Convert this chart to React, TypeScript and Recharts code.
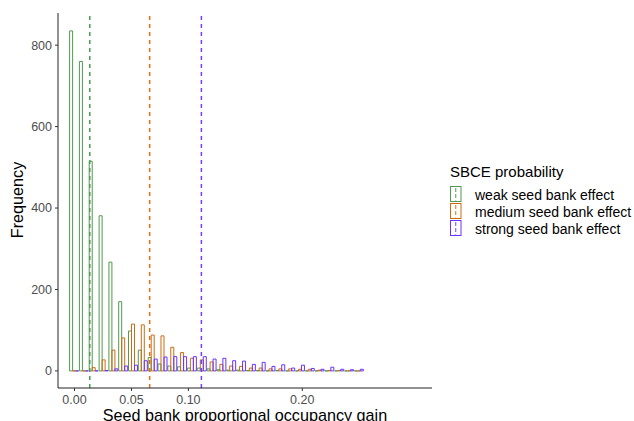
import {
  Bar,
  ComposedChart,
  ReferenceLine,
  XAxis,
  YAxis,
} from "recharts";

const FONT = '"Liberation Sans", Arial, Helvetica, sans-serif';

// histogram bin centres (30 bins)
const binCenters = [
  0, 0.0086, 0.0172, 0.0259, 0.0345, 0.0431, 0.0517, 0.0603, 0.069, 0.0776,
  0.0862, 0.0948, 0.1034, 0.1121, 0.1207, 0.1293, 0.1379, 0.1466, 0.1552, 0.1638,
  0.1724, 0.181, 0.1897, 0.1983, 0.2069, 0.2155, 0.2241, 0.2328, 0.2414, 0.25,
];

const weakCounts = [
  835, 760, 515, 381, 267, 170, 98, 51, 33, 17, 12, 10, 7, 7, 5, 3, 2, 2, 1, 1,
  0, 1, 0, 0, 0, 0, 0, 0, 0, 0,
];
const mediumCounts = [
  0, 0, 8, 27, 51, 81, 115, 113, 88, 86, 58, 45, 31, 27, 22, 16, 12, 11, 7, 7,
  5, 5, 5, 4, 4, 2, 1, 1, 0, 0,
];
const strongCounts = [
  0, 0, 0, 1, 5, 12, 14, 25, 29, 34, 35, 35, 35, 35, 29, 31, 25, 24, 16, 21,
  11, 15, 7, 14, 6, 4, 9, 4, 3, 4,
];

// mean gain per group (dashed vertical lines)
const groupMeans = [0.0134, 0.066, 0.1114];

const groups = [
  { key: "weak", label: "weak seed bank effect", color: "#4f9a4f", vline: "#4f9a4f" },
  { key: "medium", label: "medium seed bank effect", color: "#cd6a10", vline: "#e07010" },
  { key: "strong", label: "strong seed bank effect", color: "#6b32ff", vline: "#7040ff" },
];

const xTicks = [0, 0.05, 0.1, 0.2];
const yTicks = [0, 200, 400, 600, 800];

const data = binCenters.map((x, i) => ({
  x,
  weak: weakCounts[i],
  medium: mediumCounts[i],
  strong: strongCounts[i],
}));

// hollow bar, still drawn as a flat line when the count is zero
function OutlineBar(props: any) {
  const { x, y, width, height, stroke } = props;
  if (x == null || y == null) return null;
  return (
    <path
      d={`M${x},${y}h${width}v${height}h${-width}Z`}
      fill="none"
      stroke={stroke}
      strokeWidth={1}
    />
  );
}

const tickStyle = { fill: "#4d4d4d", fontSize: 12.5, fontFamily: FONT };

export default function App() {
  return (
    <div style={{ position: "absolute", left: 0, top: 0, width: 634, height: 421, background: "#fff" }}>
      <ComposedChart
        width={634}
        height={421}
        data={data}
        margin={{ top: 13, right: 202, bottom: 0, left: 0 }}
        barGap={0}
        barCategoryGap={0}
      >
        <XAxis
          dataKey="x"
          type="number"
          domain={[-0.0145, 0.3139]}
          ticks={xTicks}
          tickFormatter={(v) => Number(v).toFixed(2)}
          height={33}
          tick={tickStyle}
          tickSize={3}
          tickMargin={4}
          axisLine={{ stroke: "#222", strokeWidth: 1 }}
          tickLine={{ stroke: "#333" }}
          allowDataOverflow
        />
        <YAxis
          type="number"
          domain={[-42, 879]}
          ticks={yTicks}
          width={58}
          tick={tickStyle}
          tickSize={3}
          tickMargin={3}
          axisLine={{ stroke: "#222", strokeWidth: 1 }}
          tickLine={{ stroke: "#333" }}
          allowDataOverflow
        />
        {groups.map((g) => (
          <Bar
            key={g.key}
            dataKey={g.key}
            stroke={g.color}
            fill="none"
            shape={<OutlineBar />}
            isAnimationActive={false}
          />
        ))}
        {groups.map((g, i) => (
          <ReferenceLine
            key={`mean-${g.key}`}
            x={groupMeans[i]}
            stroke={g.vline}
            strokeOpacity={1}
            strokeWidth={1.5}
            strokeDasharray="4 4"
          />
        ))}
      </ComposedChart>

      <svg
        width={634}
        height={421}
        style={{ position: "absolute", left: 0, top: 0, pointerEvents: "none" }}
      >
        <text
          x={245}
          y={420.5}
          textAnchor="middle"
          fontSize={16.2}
          fontFamily={FONT}
          fill="#000"
        >
          Seed bank proportional occupancy gain
        </text>
        <text
          transform="translate(23.3,200) rotate(-90)"
          textAnchor="middle"
          fontSize={16.2}
          fontFamily={FONT}
          fill="#000"
        >
          Frequency
        </text>

        <text x={450} y={176.7} fontSize={15} fontFamily={FONT} fill="#000">
          SBCE probability
        </text>
        {groups.map((g, i) => {
          const top = 186.5 + i * 17;
          return (
            <g key={`legend-${g.key}`}>
              <rect x={450.5} y={top} width={10.5} height={15} fill="none" stroke={g.color} strokeWidth={1} />
              <line
                x1={455.75}
                x2={455.75}
                y1={top + 1.5}
                y2={top + 14}
                stroke={g.vline}
                strokeWidth={1}
                strokeDasharray="4 2"
              />
              <text x={475} y={top + 13.5} fontSize={14} fontFamily={FONT} fill="#000">
                {g.label}
              </text>
            </g>
          );
        })}
      </svg>
    </div>
  );
}
